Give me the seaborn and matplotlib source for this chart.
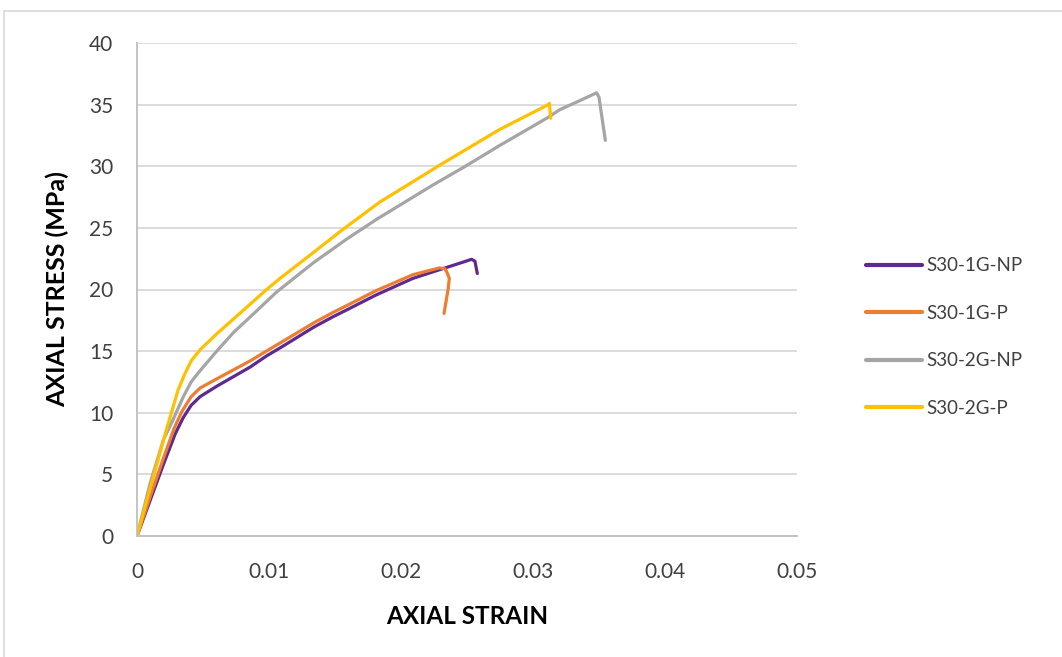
import matplotlib
matplotlib.use("Agg")
import matplotlib.pyplot as plt
from matplotlib.patches import Rectangle
import seaborn as sns
import pandas as pd

# ---- data ----
s1np_x = [0, 0.001, 0.002, 0.0029, 0.0035, 0.0041, 0.00477, 0.00604, 0.00856, 0.0098, 0.0109,
          0.0134, 0.01487, 0.0159, 0.0181, 0.0209, 0.0229, 0.0245, 0.02535, 0.0256, 0.02578]
s1np_y = [0, 2.9, 5.8, 8.3, 9.6, 10.6, 11.3, 12.15, 13.7, 14.6, 15.3,
          16.95, 17.8, 18.35, 19.55, 20.9, 21.6, 22.15, 22.45, 22.3, 21.3]

s1p_x = [0, 0.001, 0.002, 0.0028, 0.0034, 0.0041, 0.00477, 0.00604, 0.00856, 0.0098, 0.0109,
         0.0134, 0.01487, 0.0159, 0.0181, 0.0209, 0.0229, 0.0233, 0.02346, 0.02366, 0.02358, 0.02326]
s1p_y = [0, 3.2, 6.3, 8.7, 10.1, 11.3, 12.0, 12.75, 14.2, 15.0, 15.7,
         17.3, 18.15, 18.7, 19.9, 21.2, 21.75, 21.7, 21.45, 20.9, 20.1, 18.06]

s2np_x = [0, 0.001, 0.002, 0.00263, 0.00351, 0.0041, 0.00477, 0.00604, 0.0073, 0.0088, 0.01058,
          0.0134, 0.0159, 0.01816, 0.02245, 0.02472, 0.0275, 0.03104, 0.03205, 0.0335,
          0.03482, 0.0350, 0.03548]
s2np_y = [0, 4.3, 7.8, 9.2, 11.3, 12.5, 13.4, 15.0, 16.5, 18.0, 19.8,
          22.2, 24.1, 25.7, 28.5, 29.9, 31.7, 33.9, 34.6, 35.3,
          35.96, 35.6, 32.1]

s2p_x = [0, 0.001, 0.00225, 0.0031, 0.0036, 0.0041, 0.00477, 0.00604, 0.0073, 0.00856, 0.00982,
         0.01083, 0.01336, 0.01538, 0.0184, 0.02144, 0.02295, 0.0275, 0.03116, 0.03124, 0.03134]
s2p_y = [0, 3.9, 8.7, 11.8, 13.1, 14.2, 15.1, 16.4, 17.6, 18.8, 20.0,
         20.9, 23.0, 24.7, 27.1, 29.1, 30.1, 33.0, 35.0, 35.1, 33.9]

labels = ["S30-1G-NP", "S30-1G-P", "S30-2G-NP", "S30-2G-P"]
colors = ["#5E2A90", "#ED7D31", "#A5A5A5", "#FFC000"]
x_ticks = [0, 0.01, 0.02, 0.03, 0.04, 0.05]
x_tick_labels = ["0", "0.01", "0.02", "0.03", "0.04", "0.05"]
y_ticks = [0, 5, 10, 15, 20, 25, 30, 35, 40]

series = [(s1np_x, s1np_y), (s1p_x, s1p_y), (s2np_x, s2np_y), (s2p_x, s2p_y)]
frames = []
for lab, (xs, ys) in zip(labels, series):
    frames.append(pd.DataFrame({"strain": xs, "stress": ys, "specimen": lab}))
df = pd.concat(frames, ignore_index=True)

sns.set_theme(style="white")
plt.rcParams["font.family"] = ["Lato", "DejaVu Sans"]

fig = plt.figure(figsize=(10.62, 6.57), dpi=100)
ax = fig.add_axes([137 / 1062, 1 - 536 / 657, (797 - 137) / 1062, (536 - 43) / 657])

sns.lineplot(data=df, x="strain", y="stress", hue="specimen", hue_order=labels,
             palette=dict(zip(labels, colors)), sort=False, estimator=None,
             units="specimen", linewidth=2.3, ax=ax, legend=True)
for ln in ax.get_lines():
    ln.set_solid_joinstyle("round")
    ln.set_solid_capstyle("round")

ax.set_xlim(0, 0.05)
ax.set_ylim(0, 40)
ax.set_xticks(x_ticks)
ax.set_xticklabels(x_tick_labels)
ax.set_yticks(y_ticks)
ax.grid(axis="y", color="#D9D9D9", linewidth=1.3)
ax.grid(axis="x", visible=False)
ax.set_axisbelow(True)
for side in ["top", "right"]:
    ax.spines[side].set_visible(False)
for side in ["left", "bottom"]:
    ax.spines[side].set_color("#BFBFBF")
    ax.spines[side].set_linewidth(1.3)
ax.tick_params(axis="both", length=0, labelsize=15, labelcolor="#404040")
ax.tick_params(axis="x", pad=19)
ax.tick_params(axis="y", pad=17)

ax.set_xlabel("AXIAL STRAIN", fontsize=17.5, fontweight="bold", color="black", labelpad=16)
ax.set_ylabel("AXIAL STRESS (MPa)", fontsize=18, fontweight="bold", color="black", labelpad=14)

handles, labs = ax.get_legend_handles_labels()
ax.get_legend().remove()
leg = fig.legend(handles, labs, loc="center left", bbox_to_anchor=(866 / 1062, 1 - 337 / 657),
                 frameon=False, fontsize=13.5, handlelength=3.0, handletextpad=0.2,
                 labelspacing=1.62, borderpad=0, borderaxespad=0)
for h in leg.get_lines():
    h.set_linewidth(3)
for t in leg.get_texts():
    t.set_color("#404040")

# outer chart border
fig.add_artist(Rectangle((4 / 1062, -0.05), 1.1, 1 - 11 / 657 + 0.05, transform=fig.transFigure,
                         fill=False, edgecolor="#D9D9D9", linewidth=1.2))

fig.savefig("out.png", dpi=100)
